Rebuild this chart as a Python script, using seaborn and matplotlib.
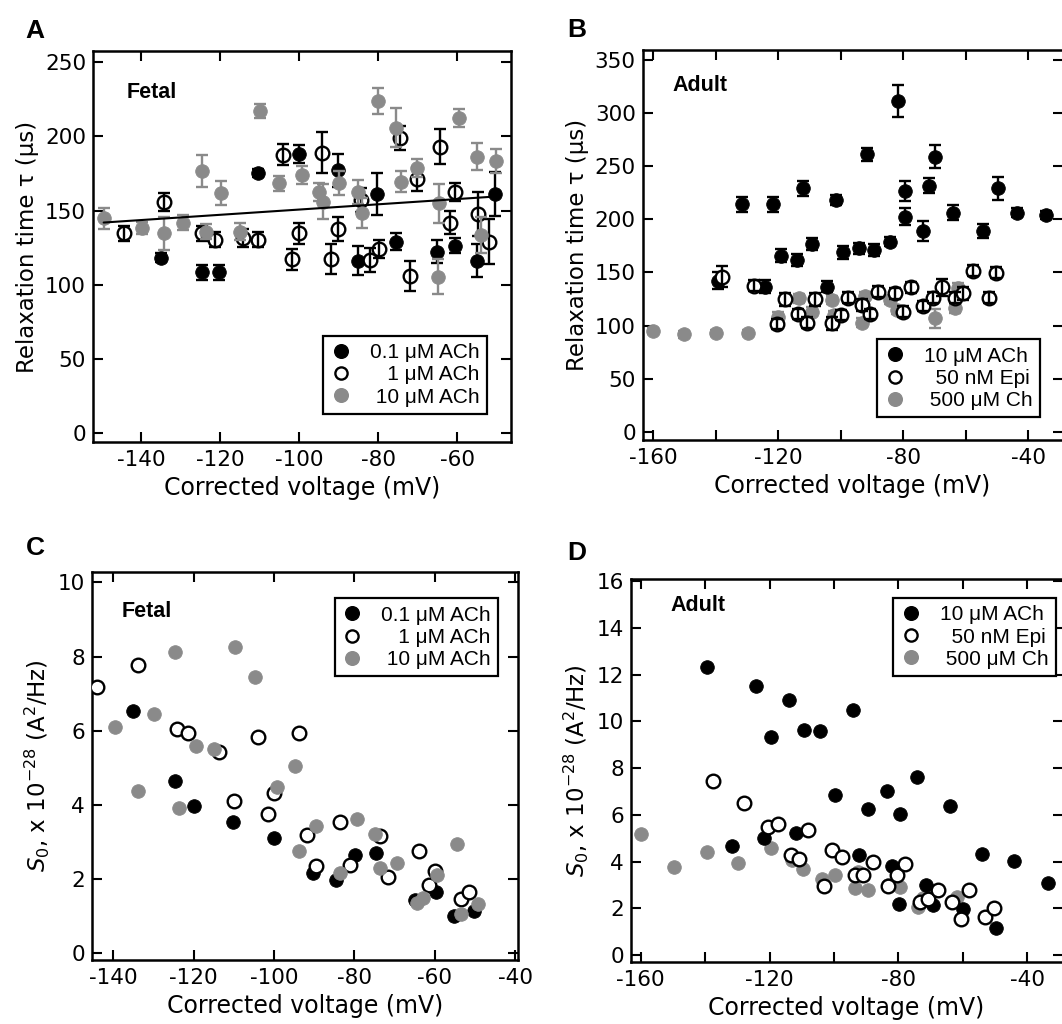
import numpy as np
import pandas as pd
import matplotlib
matplotlib.use("Agg")
import matplotlib.pyplot as plt
from matplotlib.lines import Line2D
import seaborn as sns

# ---------------- data ----------------
# Panel A (Fetal, relaxation time)
a_blk_x = [-135.0, -124.7, -120.3, -110.4, -100.0, -90.1, -85.1, -80.4, -75.4, -65.2, -60.6, -54.9, -50.5]
a_blk_y = [118.4, 108.5, 108.5, 175.4, 188.2, 177.2, 116.4, 161.3, 129.2, 122.4, 126.5, 116.4, 161.3]
a_blk_e = [3, 5, 5, 3, 6, 11, 10, 14, 6, 8, 5, 11, 15]

a_opn_x = [-144.4, -134.2, -124.7, -121.4, -114.3, -110.4, -104.1, -101.9, -100.0, -94.3, -92.0, -90.1,
           -84.3, -82.1, -79.7, -74.5, -71.9, -70.3, -64.4, -61.9, -60.6, -54.7, -52.0]
a_opn_y = [134.8, 155.7, 134.8, 130.3, 131.4, 130.3, 187.6, 117.3, 134.8, 189.1, 117.3, 137.5,
           157.2, 116.8, 124.0, 198.8, 106.0, 171.4, 193.2, 142.0, 162.4, 147.8, 129.2]
a_opn_e = [5, 6, 5, 5, 6, 5, 7, 7, 7, 14, 10, 8, 8, 8, 6, 8, 10, 8, 12, 8, 6, 15, 15]

a_gry_x = [-149.5, -139.7, -134.2, -129.4, -124.7, -123.6, -119.7, -115.0, -110.0, -105.2, -99.4, -94.9,
           -94.1, -89.9, -85.1, -84.2, -80.0, -75.4, -74.3, -70.1, -64.6, -64.8, -59.5, -54.9, -54.0, -50.3]
a_gry_y = [144.9, 138.1, 134.8, 142.0, 176.8, 135.9, 161.7, 135.9, 217.2, 168.5, 174.1, 162.8,
           156.1, 168.5, 162.8, 148.2, 223.9, 206.0, 169.6, 178.6, 155.0, 105.6, 212.7, 186.4, 133.6, 183.5]
a_gry_e = [7, 4, 11, 5, 11, 5, 8, 6, 5, 5, 6, 6, 12, 8, 8, 10, 9, 13, 7, 6, 13, 12, 6, 9, 12, 8]

a_fit_x = [-149.5, -50.5]
a_fit_y = [142.0, 159.5]

# Panel B (Adult, relaxation time)
b_blk_x = [-139.4, -131.5, -124.3, -121.6, -119.3, -114.1, -112.0, -109.3, -104.5, -101.5, -99.2, -94.1,
           -91.7, -89.3, -84.3, -81.6, -79.5, -79.5, -73.6, -71.8, -69.9, -64.0, -54.4, -49.6, -43.7, -34.3]
b_blk_y = [142.2, 214.1, 136.5, 214.1, 165.7, 161.6, 229.1, 176.7, 136.5, 218.1, 168.9, 172.6,
           261.1, 171.1, 178.9, 311.4, 226.6, 202.4, 189.0, 231.6, 259.0, 206.2, 189.0, 229.1, 206.2, 204.0]
b_blk_e = [8, 7, 6, 7, 6, 6, 7, 6, 5, 5, 6, 5, 6, 6, 4, 15, 9, 8, 9, 7, 11, 7, 7, 11, 4, 4]

b_opn_x = [-138.1, -127.7, -120.5, -117.9, -113.6, -110.9, -108.3, -102.9, -99.9, -97.6, -93.3, -90.7,
           -88.0, -82.7, -80.0, -77.5, -73.6, -70.4, -67.5, -63.5, -60.8, -57.6, -52.6, -50.3]
b_opn_y = [146.0, 137.5, 101.4, 124.6, 110.8, 102.6, 124.6, 102.0, 109.9, 126.2, 119.3, 110.8,
           131.8, 130.3, 113.0, 135.9, 118.3, 126.2, 135.9, 126.2, 130.3, 151.6, 126.2, 149.7]
b_opn_e = [10, 5, 5, 6, 5, 5, 6, 6, 5, 5, 6, 5, 5, 5, 5, 5, 5, 5, 8, 5, 6, 5, 5, 5]

b_gry_x = [-160.0, -150.1, -140.0, -129.6, -120.0, -113.3, -109.3, -102.9, -102.2, -93.3, -92.2, -84.3,
           -82.2, -69.9, -63.5, -62.4]
b_gry_y = [94.8, 91.6, 93.2, 93.2, 108.3, 125.5, 113.0, 124.0, 109.9, 102.6, 127.7, 124.0,
           114.6, 106.7, 116.1, 135.6]
b_gry_e = [3, 3, 3, 3, 4, 4, 4, 4, 4, 4, 4, 4, 4, 9, 4, 4]

# Panel C (Fetal, S0)
c_blk_x = [-135.0, -124.6, -119.8, -110.1, -99.9, -90.2, -84.5, -79.8, -74.6, -64.9, -59.6, -55.3, -50.3]
c_blk_y = [6.54, 4.65, 3.98, 3.53, 3.12, 2.16, 1.98, 2.65, 2.71, 1.44, 1.66, 1.01, 1.14]

c_opn_x = [-144.1, -133.8, -124.1, -121.5, -113.6, -109.9, -104.0, -101.4, -99.9, -93.7, -91.8, -89.5,
           -83.7, -81.2, -73.6, -71.7, -64.0, -61.5, -59.9, -53.6, -51.6]
c_opn_y = [7.17, 7.77, 6.04, 5.93, 5.43, 4.10, 5.82, 3.75, 4.31, 5.93, 3.19, 2.35,
           3.53, 2.38, 3.16, 2.05, 2.76, 1.84, 2.22, 1.46, 1.66]

c_gry_x = [-139.6, -133.8, -129.8, -124.6, -123.6, -119.4, -114.9, -109.7, -104.7, -99.3, -94.7, -93.7,
           -89.5, -83.7, -79.4, -74.8, -73.6, -69.4, -64.4, -62.9, -59.5, -54.5, -53.6, -49.2]
c_gry_y = [6.11, 4.38, 6.44, 8.11, 3.92, 5.60, 5.50, 8.26, 7.44, 4.49, 5.05, 2.76,
           3.44, 2.16, 3.61, 3.22, 2.29, 2.44, 1.37, 1.48, 2.11, 2.94, 1.05, 1.32]

# Panel D (Adult, S0)
d_blk_x = [-139.5, -131.8, -124.2, -121.7, -119.6, -113.9, -111.8, -109.3, -104.4, -99.7, -94.0, -92.2,
           -89.4, -83.6, -82.1, -79.8, -79.5, -74.3, -71.5, -69.2, -64.0, -59.9, -54.2, -49.7, -44.1, -33.7]
d_blk_y = [12.33, 4.67, 11.53, 5.00, 9.33, 10.93, 5.24, 9.64, 9.57, 6.86, 10.47, 4.29,
           6.24, 7.04, 3.79, 2.19, 6.04, 7.64, 3.00, 2.14, 6.39, 1.96, 4.33, 1.17, 4.03, 3.07]

d_opn_x = [-137.5, -127.8, -120.4, -117.5, -113.4, -110.8, -108.0, -103.0, -100.7, -97.6, -93.5, -90.9,
           -87.8, -83.2, -80.4, -78.0, -73.3, -70.7, -67.6, -63.5, -60.6, -58.0, -53.1, -50.3]
d_opn_y = [7.46, 6.50, 5.46, 5.60, 4.29, 4.11, 5.36, 2.96, 4.50, 4.21, 3.43, 3.43,
           3.96, 2.97, 3.43, 3.89, 2.26, 2.40, 2.79, 2.28, 1.54, 2.79, 1.62, 2.00]

d_gry_x = [-160.0, -149.7, -139.5, -129.9, -119.7, -113.1, -109.5, -103.8, -99.7, -93.5, -92.5, -89.4,
           -83.2, -79.5, -73.8, -72.3, -63.0, -61.9]
d_gry_y = [5.19, 3.76, 4.39, 3.93, 4.57, 4.07, 3.67, 3.24, 3.43, 2.86, 3.57, 2.79,
           3.00, 2.93, 2.07, 2.43, 2.28, 2.50]

fetal_labels = ["0.1 \u03bcM ACh", "   1 \u03bcM ACh", " 10 \u03bcM ACh"]
adult_labels = ["10 \u03bcM ACh", "  50 nM Epi", " 500 \u03bcM Ch"]

# ---------------- style ----------------
sns.set_style("ticks")
plt.rcParams['font.family'] = ['DejaVu Sans']
plt.rcParams['axes.unicode_minus'] = False
plt.rcParams['mathtext.fontset'] = 'dejavusans'
plt.rcParams['text.color'] = 'black'
plt.rcParams['axes.labelcolor'] = 'black'
plt.rcParams['xtick.color'] = 'black'
plt.rcParams['ytick.color'] = 'black'
plt.rcParams['axes.edgecolor'] = 'black'

GRAY = "#8a8a8a"
BLACK = "#000000"
MS = 9.8          # marker diameter (pt)
S = MS ** 2       # scatter area
EW = 1.7

fig = plt.figure(figsize=(10.62, 10.24), dpi=100)
W, H = 1062.0, 1024.0


def ax_at(l, t, r, b):
    return fig.add_axes([l / W, 1 - b / H, (r - l) / W, (b - t) / H])


axA = ax_at(93, 51, 511, 442)
axB = ax_at(642.7, 50, 1062.5, 440)
axC = ax_at(92, 572, 518, 960)
axD = ax_at(630.7, 579, 1062.5, 961.7)

series_style = {
    "blk": dict(face=BLACK, edge=BLACK, ecol=BLACK),
    "opn": dict(face="white", edge=BLACK, ecol=BLACK),
    "gry": dict(face=GRAY, edge=GRAY, ecol=GRAY),
}


def draw_series(ax, x, y, kind, z, err=None):
    st = series_style[kind]
    df = pd.DataFrame({"V": x, "val": y})
    sns.scatterplot(data=df, x="V", y="val", ax=ax, s=S, color=st["face"],
                    edgecolor=st["edge"], linewidth=EW if kind == "opn" else 0.6,
                    zorder=z, legend=False)
    if err is not None:
        ax.errorbar(x, y, yerr=err, fmt="none", ecolor=st["ecol"], elinewidth=1.7,
                    capsize=4.5, capthick=1.7, zorder=z + 0.5)


def style_axes(ax, xlim, ylim, xticks, xlabels, yticks, ylabel):
    ax.set_xlim(*xlim)
    ax.set_ylim(*ylim)
    ax.set_xticks(xticks)
    ax.set_xticklabels(xlabels)
    ax.set_yticks(yticks)
    ax.set_yticklabels([str(t) for t in yticks])
    ax.tick_params(direction="in", length=7, width=1.5, top=True, right=True,
                   labelsize=15.5, colors="black", labelcolor="black")
    ax.tick_params(axis="x", pad=6)
    ax.tick_params(axis="y", pad=5)
    for sp in ax.spines.values():
        sp.set_visible(True)
        sp.set_linewidth(1.8)
        sp.set_color("black")
    ax.set_xlabel("Corrected voltage (mV)", fontsize=17, labelpad=4, color="black")
    ax.set_ylabel(ylabel, fontsize=16.5, labelpad=4, color="black")


def add_legend(ax, labels, anchor):
    handles = [
        Line2D([], [], marker="o", ls="none", markersize=MS, markerfacecolor=BLACK,
               markeredgecolor=BLACK),
        Line2D([], [], marker="o", ls="none", markersize=MS - 1, markerfacecolor="white",
               markeredgecolor=BLACK, markeredgewidth=EW),
        Line2D([], [], marker="o", ls="none", markersize=MS, markerfacecolor=GRAY,
               markeredgecolor=GRAY),
    ]
    leg = ax.legend(handles, labels, loc="upper right", bbox_to_anchor=anchor,
                    bbox_transform=ax.transAxes, frameon=True, fancybox=False,
                    framealpha=1, edgecolor="black", handlelength=1.0,
                    handletextpad=0.9, labelspacing=0.15, borderpad=0.35,
                    borderaxespad=0, prop={"family": "Liberation Sans", "size": 15})
    for t in leg.get_texts():
        t.set_color("black")
    leg.get_frame().set_linewidth(1.6)
    leg.set_zorder(20)


def panel_text(ax, x, y, s):
    ax.text(x, y, s, transform=ax.transAxes, fontsize=15.5, fontweight="bold",
            family="Liberation Sans", va="center", ha="left", color="black")


tau_label = "Relaxation time \u03c4 (\u03bcs)"
s0_label = r"$S_0$, x 10$^{-28}$ (A$^2$/Hz)"

# ---- Panel A ----
draw_series(axA, a_blk_x, a_blk_y, "blk", 3, a_blk_e)
draw_series(axA, a_opn_x, a_opn_y, "opn", 4, a_opn_e)
draw_series(axA, a_gry_x, a_gry_y, "gry", 5, a_gry_e)
sns.lineplot(x=a_fit_x, y=a_fit_y, ax=axA, color="black", linewidth=1.5, zorder=8)
style_axes(axA, (-152.2, -46.4), (-5.9, 257.6), [-140, -120, -100, -80, -60],
           ["-140", "-120", "-100", "-80", "-60"], [0, 50, 100, 150, 200, 250], tau_label)
add_legend(axA, fetal_labels, (0.942, 0.271))
panel_text(axA, 0.081, 0.895, "Fetal")

# ---- Panel B ----
draw_series(axB, b_gry_x, b_gry_y, "gry", 3, b_gry_e)
draw_series(axB, b_blk_x, b_blk_y, "blk", 4, b_blk_e)
draw_series(axB, b_opn_x, b_opn_y, "opn", 5, b_opn_e)
style_axes(axB, (-163.4, -29.1), (-7.8, 359.4), [-160, -140, -120, -100, -80, -60, -40],
           ["-160", "", "-120", "", "-80", "", "-40"], [0, 50, 100, 150, 200, 250, 300, 350], tau_label)
add_legend(axB, adult_labels, (0.946, 0.258))
panel_text(axB, 0.07, 0.908, "Adult")

# ---- Panel C ----
draw_series(axC, c_blk_x, c_blk_y, "blk", 3)
draw_series(axC, c_opn_x, c_opn_y, "opn", 4)
draw_series(axC, c_gry_x, c_gry_y, "gry", 5)
style_axes(axC, (-145.3, -39.3), (-0.18, 10.28), [-140, -120, -100, -80, -60, -40],
           ["-140", "-120", "-100", "-80", "-60", "-40"], [0, 2, 4, 6, 8, 10], s0_label)
add_legend(axC, fetal_labels, (0.954, 0.932))
panel_text(axC, 0.07, 0.897, "Fetal")

# ---- Panel D ----
draw_series(axD, d_gry_x, d_gry_y, "gry", 3)
draw_series(axD, d_blk_x, d_blk_y, "blk", 4)
draw_series(axD, d_opn_x, d_opn_y, "opn", 5)
style_axes(axD, (-163.1, -29.1), (-0.29, 16.1), [-160, -140, -120, -100, -80, -60, -40],
           ["-160", "", "-120", "", "-80", "", "-40"], [0, 2, 4, 6, 8, 10, 12, 14, 16], s0_label)
add_legend(axD, adult_labels, (0.985, 0.95))
panel_text(axD, 0.091, 0.932, "Adult")

# panel letters
for (px, py, s) in [(35, 31, "A"), (577, 30, "B"), (35, 548, "C"), (577, 553, "D")]:
    fig.text(px / W, 1 - py / H, s, fontsize=19, fontweight="bold", family="Liberation Sans",
             ha="center", va="center", color="black")

fig.savefig("out.png", dpi=100)
